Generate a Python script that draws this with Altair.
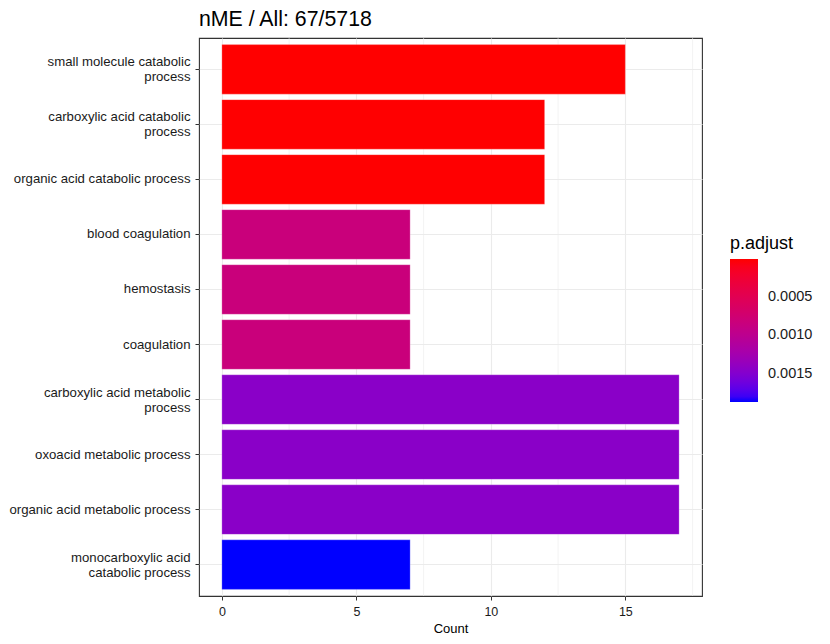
import altair as alt
import pandas as pd

terms = [
    "small molecule catabolic|process",
    "carboxylic acid catabolic|process",
    "organic acid catabolic process",
    "blood coagulation",
    "hemostasis",
    "coagulation",
    "carboxylic acid metabolic|process",
    "oxoacid metabolic process",
    "organic acid metabolic process",
    "monocarboxylic acid|catabolic process",
]
counts = [15, 12, 12, 7, 7, 7, 17, 17, 17, 7]
p_adjust = [0.000002, 0.000004, 0.000004, 0.00083, 0.00083, 0.00083,
            0.00145, 0.00145, 0.00145, 0.00187]
major_ticks = [0, 5, 10, 15]
minor_ticks = [2.5, 7.5, 12.5, 17.5]
legend_ticks = [0.0005, 0.0010, 0.0015]

df = pd.DataFrame({"Description": terms, "Count": counts, "padj": p_adjust})
minor_df = pd.DataFrame({"m": minor_ticks})

FONT = "Liberation Sans"
xscale = alt.Scale(domain=[-0.85, 17.85], nice=False, zero=False)

xaxis = alt.Axis(
    values=major_ticks,
    grid=True,
    gridColor="#EBEBEB",
    gridWidth=1.1,
    domain=False,
    tickColor="#333333",
    tickSize=4,
    labelFontSize=12.5,
    labelColor="#1A1A1A",
    labelPadding=5,
    titleFontSize=13,
    titleFontWeight="normal",
    titleColor="#000000",
    titlePadding=5,
)

minor = alt.Chart(minor_df).mark_rule(color="#EBEBEB", strokeWidth=0.6).encode(
    x=alt.X("m:Q", scale=xscale, title="Count", axis=xaxis)
)

bars = alt.Chart(df).transform_calculate(
    negp="-datum.padj"
).mark_bar(stroke="#FFFFFF", strokeWidth=0.4, strokeOpacity=0.6).encode(
    x=alt.X("Count:Q", scale=xscale, title="Count", axis=xaxis),
    x2=alt.datum(0),
    y=alt.Y(
        "Description:N",
        sort=terms,
        title=None,
        scale=alt.Scale(paddingInner=0.1, paddingOuter=0.12),
        axis=alt.Axis(
            labelExpr="split(datum.label, '|')",
            labelOffset={"condition": {"test": "indexof(datum.label, '|') >= 0", "value": -7}, "value": 0},
            grid=True,
            gridColor="#EBEBEB",
            gridWidth=1.1,
            domain=False,
            tickColor="#333333",
            tickSize=4,
            labelFontSize=13.2,
            labelColor="#1A1A1A",
            labelPadding=5,
            labelLineHeight=15,
            labelLimit=300,
        ),
    ),
    color=alt.Color(
        "negp:Q",
        title="p.adjust",
        scale=alt.Scale(range=["#0000FF", "#FF0000"], interpolate="lab", nice=False, zero=False),
        legend=alt.Legend(
            orient="none",
            legendX=531,
            legendY=197,
            direction="vertical",
            values=[-v for v in legend_ticks],
            labelExpr="format(-datum.value, '.4f')",
            gradientLength=143,
            gradientThickness=28,
            gradientStrokeWidth=0,
            titleFontSize=18,
            titleFontWeight="normal",
            titleColor="#000000",
            titlePadding=6,
            labelFontSize=14.5,
            labelColor="#1A1A1A",
            labelOffset=10,
        ),
    ),
)

chart = alt.layer(minor, bars).properties(
    width=503,
    height=558,
    title=alt.Title(
        "nME / All: 67/5718",
        anchor="start",
        frame="group",
        fontSize=21.3,
        fontWeight="normal",
        color="#000000",
        offset=12,
        baseline="alphabetic",
        dy=22,
    ),
    autosize=alt.AutoSizeParams(type="none"),
    padding={"left": 191, "top": 30, "right": 120, "bottom": 40},
).configure(font=FONT).configure_view(stroke="#333333", strokeWidth=1.1)

chart.save("out.html", embed_options={"renderer": "svg", "actions": False})
